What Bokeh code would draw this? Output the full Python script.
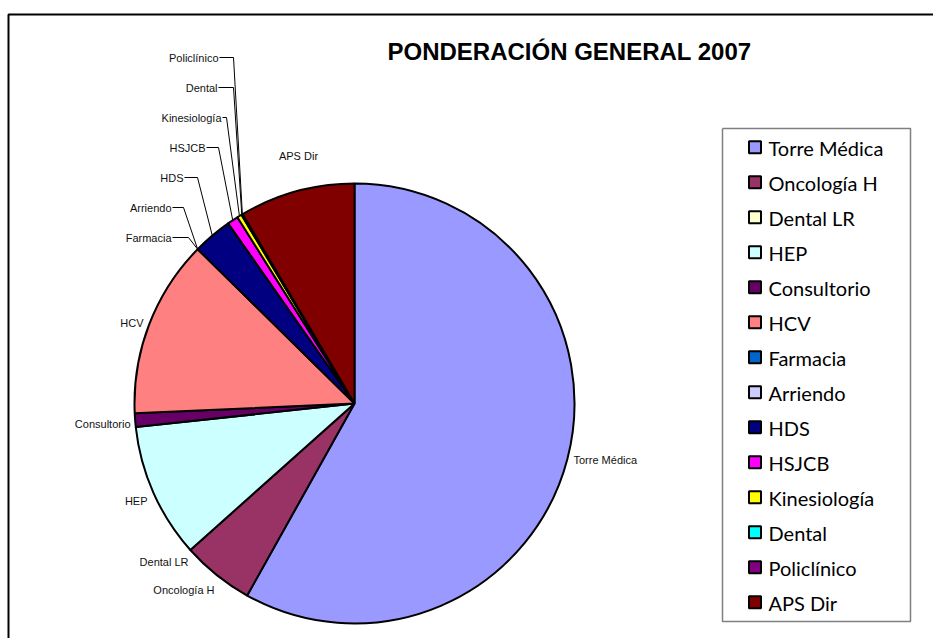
import math
from bokeh.plotting import figure
from bokeh.models import Range1d, ColumnDataSource
from bokeh.core.properties import value
from bokeh.embed import file_html
from bokeh.resources import INLINE

W, H = 933, 638

# ---- data ----
categories = ["Torre Médica", "Oncología H", "Dental LR", "HEP", "Consultorio", "HCV",
              "Farmacia", "Arriendo", "HDS", "HSJCB", "Kinesiología", "Dental",
              "Policlínico", "APS Dir"]
values = [58.2, 5.3, 0.0, 9.9, 1.0, 13.1, 0.0, 0.0, 2.9, 0.8, 0.35, 0.05, 0.05, 8.5]
colors = ["#9999FF", "#993366", "#FFFFCC", "#CCFFFF", "#660066", "#FF8080",
          "#0066CC", "#CCCCFF", "#000080", "#FF00FF", "#FFFF00", "#00FFFF",
          "#800080", "#800000"]
title_text = "PONDERACIÓN GENERAL 2007"

# ---- layout (screen pixels, y downwards) ----
CX, CY, R = 354, 403, 220
# label anchor (x, y centre, align) and optional leader bend x
label_layout = {
    "Torre Médica": (573, 459, "left", None),
    "Oncología H": (214, 589, "right", None),
    "Dental LR": (188, 561, "right", None),
    "HEP": (147, 500, "right", None),
    "Consultorio": (130, 423, "right", None),
    "HCV": (143, 322, "right", None),
    "Farmacia": (171, 237, "right", 188),
    "Arriendo": (171, 207, "right", 183),
    "HDS": (183, 177, "right", 197),
    "HSJCB": (205, 147, "right", 218),
    "Kinesiología": (221, 117, "right", 226),
    "Dental": (217, 87, "right", 233),
    "Policlínico": (218, 57, "right", 233),
    "APS Dir": (298, 155, "center", None),
}


def Y(py):
    return H - py


p = figure(width=W, height=H, output_backend="svg", toolbar_location=None,
           x_range=Range1d(0, W), y_range=Range1d(0, H), min_border=0,
           outline_line_color=None)
p.axis.visible = False
p.grid.visible = False
p.background_fill_color = "white"
p.border_fill_color = "white"

# outer chart frame (extends past the window on right/bottom)
p.line(x=[8, 8, W + 20], y=[Y(H + 20), Y(14), Y(14)], line_color="black", line_width=2)

# ---- pie ----
total = sum(values)
starts, ends, mids = [], [], []
acc = 0.0
for v in values:
    t1 = acc / total * 2 * math.pi          # clockwise from top
    acc += v
    t2 = acc / total * 2 * math.pi
    starts.append(math.pi / 2 - t2)
    ends.append(math.pi / 2 - t1)
    mids.append((t1 + t2) / 2)

nz = [i for i, v in enumerate(values) if v > 0]
src = ColumnDataSource(dict(start=[starts[i] for i in nz], end=[ends[i] for i in nz],
                            color=[colors[i] for i in nz], name=[categories[i] for i in nz]))
p.wedge(x=CX, y=Y(CY), radius=R, start_angle="start", end_angle="end",
        fill_color="color", line_color="black", line_width=2, source=src)

# ---- slice labels with leader lines ----
for name, mid in zip(categories, mids):
    lx, ly, align, bend = label_layout[name]
    p.text(x=[lx], y=[Y(ly)], text=[name], text_font=value("Liberation Sans"),
           text_font_size="11px", text_color="#111111", text_align=align,
           text_baseline="middle")
    if bend is not None:
        ex = CX + R * math.sin(mid)
        ey = CY - R * math.cos(mid)
        p.line(x=[lx + 1, bend, ex], y=[Y(ly), Y(ly), Y(ey)],
               line_color="black", line_width=1)

# ---- title ----
p.text(x=[569], y=[Y(51)], text=[title_text], text_font=value("Liberation Sans"),
       text_font_size="24px", text_font_style="bold", text_color="black",
       text_align="center", text_baseline="middle")

# ---- legend ----
LX0, LY0, LX1, LY1 = 722, 128, 910, 621
p.line(x=[LX0, LX1, LX1, LX0, LX0], y=[Y(LY0), Y(LY0), Y(LY1), Y(LY1), Y(LY0)],
       line_color="#7f7f7f", line_width=1.5)
row0, pitch = 146.7, 35.0
leg_y = [Y(row0 + i * pitch) for i in range(len(categories))]
leg_src = ColumnDataSource(dict(y=leg_y, ty=[y - 1 for y in leg_y], color=colors, name=categories))
p.rect(x=754.5, y="y", width=12, height=12, fill_color="color", line_color="black",
       line_width=2, source=leg_src)
p.text(x=768, y="ty", text="name", text_font=value("Lato"), text_font_size="20px",
       text_color="black", text_align="left", text_baseline="middle", source=leg_src)

open("out.html", "w").write(file_html(p, INLINE))
